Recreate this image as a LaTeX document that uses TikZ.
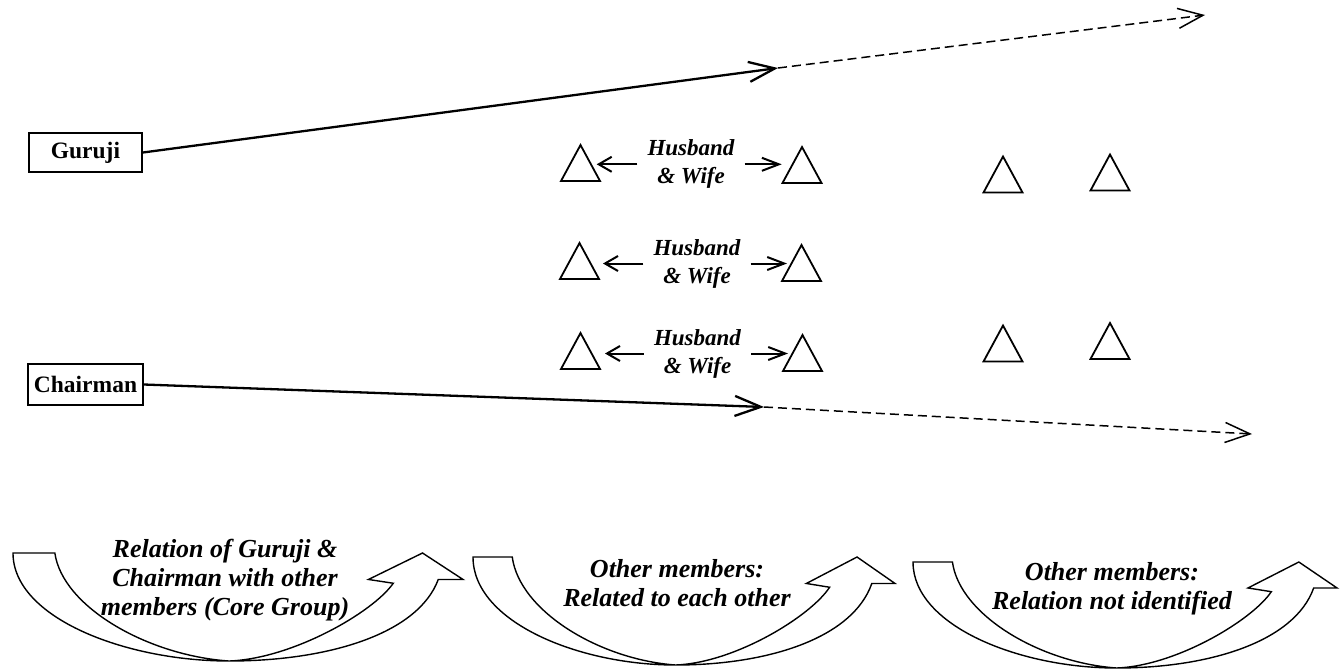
\documentclass[tikz,border=0pt]{standalone}
\usepackage{fontspec}
\setmainfont{Liberation Serif}
\usetikzlibrary{arrows.meta}
\tikzset{
  namebox/.style={draw, line width=1.8pt, inner sep=0pt, font=\fontsize{23.5}{27}\selectfont\bfseries},
  hwtext/.style={align=center, inner xsep=10pt, inner ysep=0pt, font=\fontsize{23}{28}\selectfont\bfseries\itshape},
  bigtxt/.style={align=center, inner sep=0pt, font=\fontsize{26}{29}\selectfont\bfseries\itshape},
  mainarrow/.style={line width=2.3pt, -{Straight Barb[length=26pt,width=20pt,line width=2.3pt]}},
  dasharrow/.style={line width=1.5pt, dash pattern=on 9pt off 5pt, -{Straight Barb[length=25pt,width=20pt,line width=1.5pt]}},
  leftarrow/.style={line width=2pt, -{Straight Barb[length=13pt,width=15pt,line width=2pt]}},
  rightarrow/.style={line width=2pt, -{Straight Barb[length=17pt,width=13pt,line width=2pt]}},
  tri/.style={draw, line width=1.8pt, line join=miter},
  cup/.style={draw, line width=1.4pt, line join=miter},
}
\newcommand\trishape[2]{\draw[tri] ({#1-19.5},{#2+18}) -- (#1,{#2-18}) -- ({#1+19.5},{#2+18}) -- cycle;}
\newcommand\curvedup[4]{%
\begin{scope}[shift={(#1,#2)},x=#3pt,y=-#4pt]
\draw[cup] (0,0) -- (0.093,0) .. controls (0.11,0.5) and (0.3,0.95) .. (0.48,1)
 .. controls (0.62,0.98) and (0.8,0.55) .. (0.845,0.28)
 -- (0.79,0.245) -- (0.91,0) -- (1,0.245) -- (0.945,0.245)
 .. controls (0.9,0.75) and (0.7,1) .. (0.48,1)
 .. controls (0.25,1) and (0,0.6) .. (0,0) -- cycle;
\end{scope}}
\begin{document}
\begin{tikzpicture}[x=1pt,y=-1pt]
\useasboundingbox (0,0) rectangle (1343,670);

% name boxes
\node[namebox, minimum width=113pt, minimum height=39pt] (g) at (85.5,152.5) {Guruji};
\node[namebox, minimum width=115pt, minimum height=41pt] (c) at (85.5,384.5) {Chairman};

% long arrows
\coordinate (gtip) at (778,68);
\coordinate (gend) at (1205,15);
\coordinate (ctip) at (764,407);
\coordinate (cend) at (1252,434);
\draw[mainarrow] (g.east) -- (gtip);
\draw[dasharrow] (gtip) -- (gend);
\draw[mainarrow] (c.east) -- (ctip);
\draw[dasharrow] (ctip) -- (cend);

% triangles
\trishape{580.5}{163}
\trishape{802}{165}
\trishape{579.5}{261}
\trishape{801.5}{263}
\trishape{580.5}{351}
\trishape{802.5}{353}
\trishape{1003}{174.5}
\trishape{1110}{172.5}
\trishape{1003}{343.5}
\trishape{1110}{341}

% husband & wife labels
\node[hwtext] (hw1) at (691,164.3) {Husband\\\& Wife};
\node[hwtext] (hw2) at (697,263.5) {Husband\\\& Wife};
\node[hwtext] (hw3) at (697.5,353.5) {Husband\\\& Wife};
\coordinate (l1) at (596.7,164.3);
\coordinate (r1) at (781.7,164.3);
\coordinate (l2) at (603,263.5);
\coordinate (r2) at (787,263.5);
\coordinate (l3) at (605,353.5);
\coordinate (r3) at (788,353.5);
\draw[leftarrow] (hw1.west) -- (l1);
\draw[rightarrow] (hw1.east) -- (r1);
\draw[leftarrow] (hw2.west) -- (l2);
\draw[rightarrow] (hw2.east) -- (r2);
\draw[leftarrow] (hw3.west) -- (l3);
\draw[rightarrow] (hw3.east) -- (r3);

% curved up arrows
\curvedup{13}{553}{450}{108}
\curvedup{473}{557}{422}{108}
\curvedup{913}{562}{424}{106}

\node[bigtxt, anchor=base] (t1) at (225,615) {Relation of Guruji \&\\Chairman with other\\members (Core Group)};
\node[bigtxt, anchor=base] (t2) at (677,606) {Other members:\\Related to each other};
\node[bigtxt, anchor=base] (t3) at (1112,609) {Other members:\\Relation not identified};
\end{tikzpicture}
\end{document}
